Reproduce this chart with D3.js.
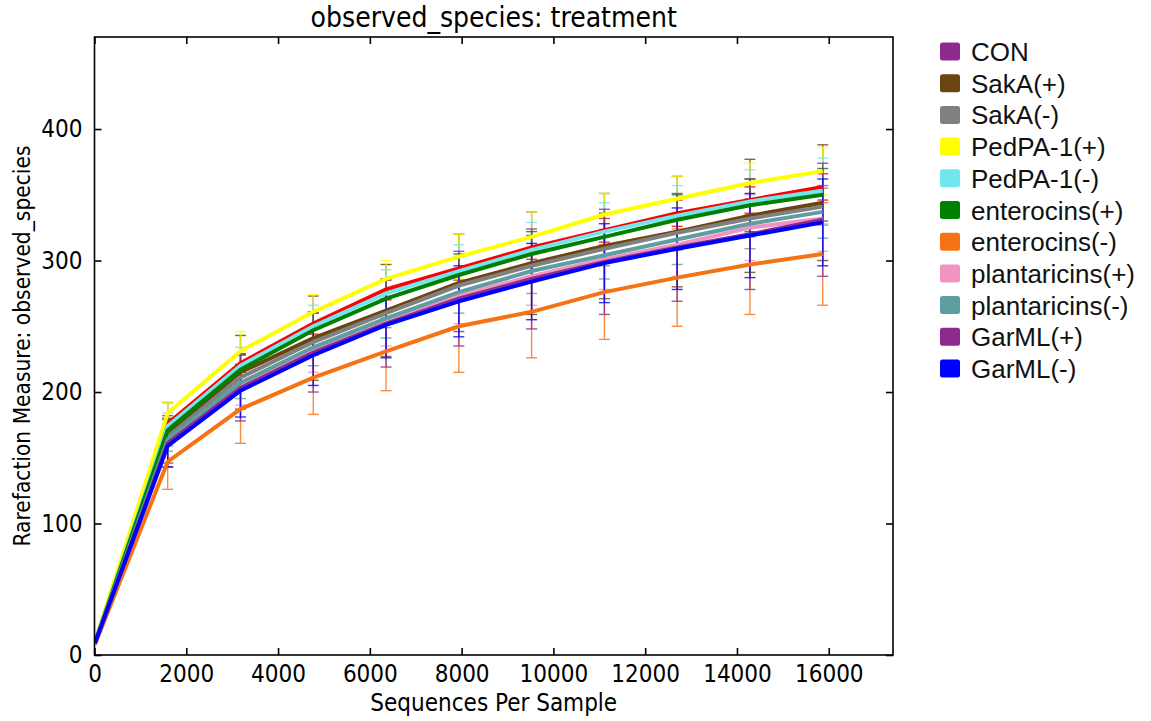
<!DOCTYPE html>
<html>
<head>
<meta charset="utf-8">
<script src="https://cdn.jsdelivr.net/npm/d3@7"></script>
<style>
  html, body { margin: 0; padding: 0; background: #fff; }
  svg { display: block; }
</style>
</head>
<body>
<svg id="chart" width="1151" height="721"></svg>
<script>
// ---------------- DATA ----------------
const seqs = [10, 1595, 3181, 4767, 6353, 7939, 9525, 11111, 12697, 14283, 15869];

const seriesNames = ["CON", "SakA(+)", "SakA(-)", "PedPA-1(+)", "PedPA-1(-)", "enterocins(+)",
  "enterocins(-)", "plantaricins(+)", "plantaricins(-)", "GarML(+)", "GarML(-)"];

const legendColors = ["#8e2a8e", "#6b4410", "#808080", "#ffff00", "#72e6f0", "#008000",
  "#f57314", "#f293c4", "#5f9ea0", "#8e2a8e", "#0000ff"];
const lineColors = ["#ff0000", "#6b4410", "#808080", "#ffff00", "#72e6f0", "#008000",
  "#f57314", "#f293c4", "#5f9ea0", "#8e2a8e", "#0000ff"];

const meanCON        = [9, 176, 222, 252, 278, 294, 310, 323, 336, 346, 356];
const meanSakAPlus   = [9, 169, 215, 241, 262, 283, 298, 311, 322, 334, 344];
const meanSakAMinus  = [9, 166, 211, 238, 260, 281, 296, 309, 321, 332, 341];
const meanPedPlus    = [10, 184, 231, 261, 286, 303, 318, 335, 347, 359, 368];
const meanPedMinus   = [9, 174, 220, 250, 275, 292, 308, 322, 334, 345, 353];
const meanEntPlus    = [9, 171, 217, 247, 271, 289, 305, 318, 331, 342, 350];
const meanEntMinus   = [8, 147, 187, 211, 231, 250, 261, 276, 287, 297, 305];
const meanPlaPlus    = [9, 162, 205, 232, 254, 273, 288, 301, 312, 325, 332];
const meanPlaMinus   = [9, 164, 207, 234, 256, 276, 292, 304, 316, 328, 337];
const meanGarPlus    = [9, 161, 203, 230, 252, 271, 286, 299, 310, 320, 331];
const meanGarMinus   = [9, 159, 201, 228, 251, 269, 284, 298, 309, 319, 329];

const sdCON          = [0, 6, 7, 8, 8, 9, 9, 9, 10, 10, 10];
const sdSakAPlus     = [0, 23, 28, 32, 35, 37, 39, 40, 42, 43, 44];
const sdSakAMinus    = [0, 7, 9, 10, 11, 12, 12, 13, 13, 14, 14];
const sdPedPlus      = [0, 8, 15, 13, 14, 17, 19, 16, 17, 15, 18];
const sdPedMinus     = [0, 10, 14, 16, 18, 20, 21, 22, 23, 24, 25];
const sdEntPlus      = [0, 9, 12, 14, 15, 16, 17, 18, 19, 20, 20];
const sdEntMinus     = [0, 21, 26, 28, 30, 35, 35, 36, 37, 38, 39];
const sdPlaPlus      = [0, 12, 15, 17, 19, 21, 22, 23, 24, 25, 25];
const sdPlaMinus     = [0, 9, 12, 14, 15, 16, 17, 18, 19, 19, 20];
const sdGarPlus      = [0, 18, 25, 30, 33, 36, 38, 40, 41, 42, 43];
const sdGarMinus     = [0, 16, 20, 23, 25, 27, 29, 30, 31, 32, 33];

const means = [meanCON, meanSakAPlus, meanSakAMinus, meanPedPlus, meanPedMinus, meanEntPlus,
  meanEntMinus, meanPlaPlus, meanPlaMinus, meanGarPlus, meanGarMinus];
const sds = [sdCON, sdSakAPlus, sdSakAMinus, sdPedPlus, sdPedMinus, sdEntPlus,
  sdEntMinus, sdPlaPlus, sdPlaMinus, sdGarPlus, sdGarMinus];

const xTicks = [0, 2000, 4000, 6000, 8000, 10000, 12000, 14000, 16000];
const yTicks = [0, 100, 200, 300, 400];

const titleText = "observed_species: treatment";
const xLabel = "Sequences Per Sample";
const yLabel = "Rarefaction Measure: observed_species";

// ---------------- DRAW ----------------
const svg = d3.select("#chart");
const L = 94.5, R = 893, T = 37, B = 655;
const x = d3.scaleLinear().domain([0, 17400]).range([L, R]);
const y = d3.scaleLinear().domain([0, 470]).range([B, T]);

const condensed = "'DejaVu Sans Condensed', 'DejaVu Sans', sans-serif";

svg.append("defs").append("clipPath").attr("id", "clip")
  .append("rect").attr("x", L).attr("y", T).attr("width", R - L).attr("height", B - T);

const plot = svg.append("g").attr("clip-path", "url(#clip)");

const series = seriesNames.map((name, i) => ({
  name, color: lineColors[i],
  pts: seqs.map((s, k) => ({ s, m: means[i][k], sd: sds[i][k] }))
}));

// error bars
series.forEach(ser => {
  const g = plot.append("g").attr("stroke", ser.color).attr("stroke-width", 1.4).attr("opacity", 0.8);
  ser.pts.filter(p => p.sd > 0).forEach(p => {
    const cx = x(p.s);
    g.append("line").attr("x1", cx).attr("x2", cx).attr("y1", y(p.m - p.sd)).attr("y2", y(p.m + p.sd));
    g.append("line").attr("x1", cx - 5.5).attr("x2", cx + 5.5).attr("y1", y(p.m - p.sd)).attr("y2", y(p.m - p.sd));
    g.append("line").attr("x1", cx - 5.5).attr("x2", cx + 5.5).attr("y1", y(p.m + p.sd)).attr("y2", y(p.m + p.sd));
  });
});

// lines
const line = d3.line().x(p => x(p.s)).y(p => y(p.m));
series.forEach(ser => {
  plot.append("path").attr("d", line(ser.pts)).attr("fill", "none")
    .attr("stroke", ser.color).attr("stroke-width", 4).attr("stroke-linejoin", "miter");
});

// frame
svg.append("rect").attr("x", L).attr("y", T).attr("width", R - L).attr("height", B - T)
  .attr("fill", "none").attr("stroke", "#000").attr("stroke-width", 1.6);

// axes with inward ticks
const tickLen = 7;
const axB = svg.append("g").attr("transform", `translate(0,${B})`)
  .call(d3.axisBottom(x).tickValues(xTicks).tickSizeInner(-tickLen).tickSizeOuter(0).tickPadding(10).tickFormat(d3.format("d")));
const axT = svg.append("g").attr("transform", `translate(0,${T})`)
  .call(d3.axisTop(x).tickValues(xTicks).tickSizeInner(-tickLen).tickSizeOuter(0).tickFormat(""));
const axL = svg.append("g").attr("transform", `translate(${L},0)`)
  .call(d3.axisLeft(y).tickValues(yTicks).tickSizeInner(-tickLen).tickSizeOuter(0).tickPadding(12).tickFormat(d3.format("d")));
const axR = svg.append("g").attr("transform", `translate(${R},0)`)
  .call(d3.axisRight(y).tickValues(yTicks).tickSizeInner(-tickLen).tickSizeOuter(0).tickFormat(""));
[axB, axT, axL, axR].forEach(a => {
  a.select(".domain").remove();
  a.selectAll(".tick line").attr("stroke", "#000").attr("stroke-width", 1.6);
  a.selectAll("text").attr("font-family", condensed).attr("font-size", 24).attr("fill", "#000");
});
axB.selectAll("text").attr("dy", "0.71em");

// title & labels
svg.append("text").attr("x", (L + R) / 2).attr("y", 27).attr("text-anchor", "middle")
  .attr("font-family", condensed).attr("font-size", 28).text(titleText);
svg.append("text").attr("x", (L + R) / 2).attr("y", 711).attr("text-anchor", "middle")
  .attr("font-family", condensed).attr("font-size", 24).text(xLabel);
svg.append("text").attr("transform", `translate(30,${(T + B) / 2}) rotate(-90)`).attr("text-anchor", "middle")
  .attr("font-family", condensed).attr("font-size", 22.5).text(yLabel);

// legend
const leg = svg.append("g");
seriesNames.forEach((name, i) => {
  const cy = 51.5 + i * 31.7;
  leg.append("rect").attr("x", 940).attr("y", cy - 9).attr("width", 20).attr("height", 18)
    .attr("rx", 2.5).attr("fill", legendColors[i]);
  leg.append("text").attr("x", 971).attr("y", cy + 9.5)
    .attr("font-family", "'Liberation Sans', Arial, sans-serif").attr("font-size", 26).attr("fill", "#111").text(name);
});
</script>
</body>
</html>
